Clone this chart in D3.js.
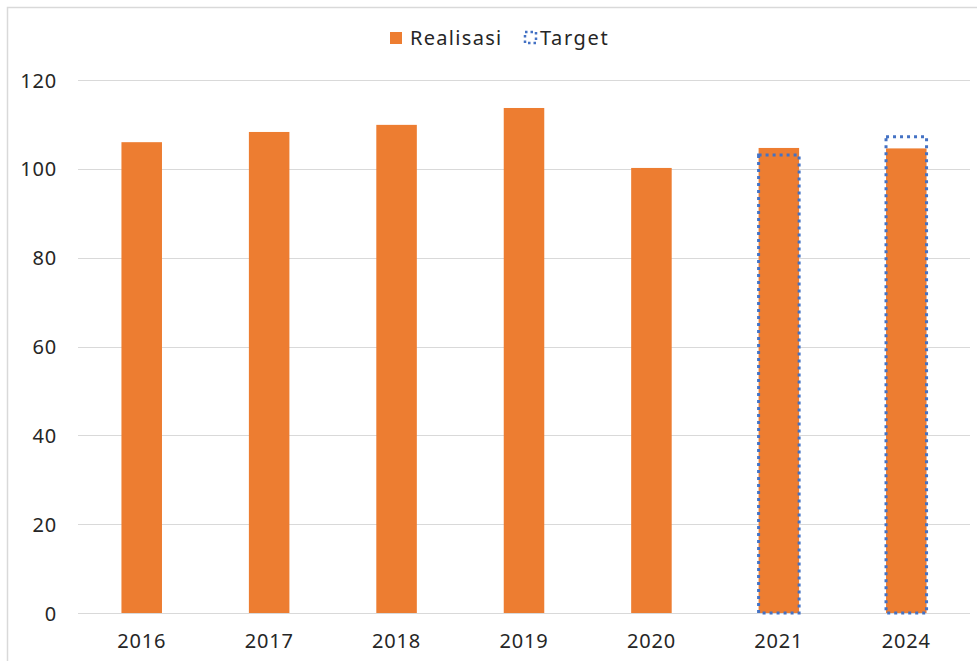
<!DOCTYPE html>
<html>
<head>
<meta charset="utf-8">
<script src="https://cdn.jsdelivr.net/npm/d3@7"></script>
<style>
  html, body { margin: 0; padding: 0; background: #fff; }
  svg { display: block; font-family: "Noto Sans", "Open Sans", sans-serif; }
</style>
</head>
<body>
<svg id="chart" width="977" height="661"></svg>
<script>
const categories = ["2016", "2017", "2018", "2019", "2020", "2021", "2024"];
const realisasi = [106.0, 108.3, 109.9, 113.7, 100.2, 104.7, 104.6];
const target = [null, null, null, null, null, 103.1, 107.2];
const yTicks = [0, 20, 40, 60, 80, 100, 120];
const seriesNames = ["Realisasi", "Target"];

(function () {
const svg = d3.select("#chart");
const mLeft = 78, mRight = 970, mTop = 80, mBottom = 613;
const orange = "#ED7D31", blue = "#4472C4", grid = "#d9d9d9", textCol = "#262626";

// outer border
svg.append("rect").attr("x", 7.5).attr("y", 7.5).attr("width", 1000).attr("height", 1000)
  .attr("fill", "none").attr("stroke", "#d9d9d9").attr("stroke-width", 1.5);

const x = d3.scaleBand().domain(categories).range([mLeft, mRight])
  .paddingInner(0.682).paddingOuter(0.341);
const y = d3.scaleLinear().domain([0, 120]).range([mBottom, mTop]);

// gridlines
svg.append("g").selectAll("line").data(yTicks).join("line")
  .attr("x1", mLeft).attr("x2", mRight)
  .attr("y1", d => Math.round(y(d)) + 0.5).attr("y2", d => Math.round(y(d)) + 0.5)
  .attr("stroke", grid).attr("stroke-width", 1.2);

// y axis labels
const yAxis = d3.axisLeft(y).tickValues(yTicks).tickSize(0).tickPadding(0);
const gy = svg.append("g").attr("transform", "translate(57,0)").call(yAxis);
gy.select(".domain").remove();
gy.selectAll("text").attr("font-size", 20).attr("fill", textCol)
  .attr("font-family", "\"Noto Sans\", sans-serif").attr("dy", "0.35em")
  .attr("letter-spacing", 0.8);

// x axis labels
const xAxis = d3.axisBottom(x).tickSize(0).tickPadding(0);
const gx = svg.append("g").attr("transform", `translate(0,${mBottom})`).call(xAxis);
gx.select(".domain").remove();
gx.selectAll("text").attr("font-size", 20).attr("fill", textCol)
  .attr("font-family", "\"Noto Sans\", sans-serif").attr("dy", "0").attr("y", 35)
  .attr("letter-spacing", 0.8);

// bars
svg.append("g").selectAll("rect").data(categories).join("rect")
  .attr("x", d => x(d)).attr("width", x.bandwidth())
  .attr("y", (d, i) => y(realisasi[i]))
  .attr("height", (d, i) => y(0) - y(realisasi[i]))
  .attr("fill", orange);

// target outlines
const tData = categories.map((c, i) => ({c, v: target[i]})).filter(d => d.v != null);
svg.append("g").selectAll("rect").data(tData).join("rect")
  .attr("x", d => x(d.c)).attr("width", x.bandwidth())
  .attr("y", d => y(d.v)).attr("height", d => y(0) - y(d.v))
  .attr("fill", "none").attr("stroke", blue).attr("stroke-width", 3)
  .attr("stroke-dasharray", "3,4");

// legend
const lg = svg.append("g");
lg.append("rect").attr("x", 390).attr("y", 32).attr("width", 12).attr("height", 12).attr("fill", orange);
lg.append("text").attr("x", 410).attr("y", 38).attr("dy", "0.35em").attr("font-size", 20)
  .attr("letter-spacing", 1.3).attr("fill", textCol).text(seriesNames[0]);
lg.append("rect").attr("x", 525).attr("y", 32).attr("width", 11).attr("height", 11)
  .attr("fill", "none").attr("stroke", blue).attr("stroke-width", 2.5).attr("stroke-dasharray", "2.5,3");
lg.append("text").attr("x", 540).attr("y", 38).attr("dy", "0.35em").attr("font-size", 20)
  .attr("letter-spacing", 1.6).attr("fill", textCol).text(seriesNames[1]);
})();
</script>
</body>
</html>
